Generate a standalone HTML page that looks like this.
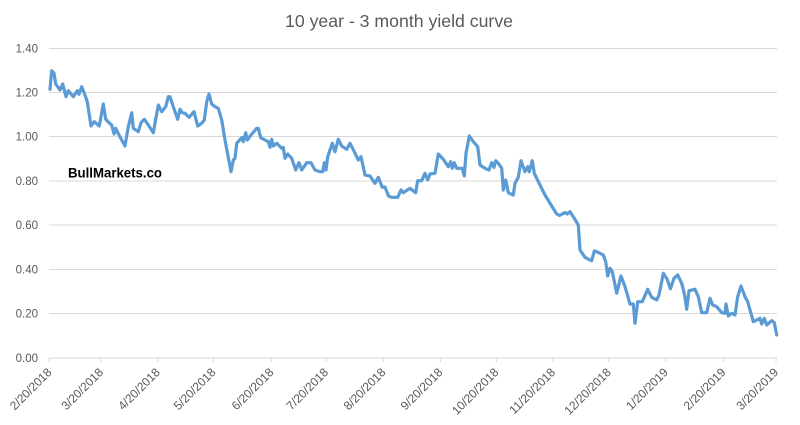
<!DOCTYPE html>
<html><head><meta charset="utf-8"><style>
html,body{margin:0;padding:0;background:#fff;}
svg{display:block;}
</style></head><body>
<svg width="800" height="425" viewBox="0 0 800 425" xmlns="http://www.w3.org/2000/svg">
<rect width="800" height="425" fill="#fff"/>
<text x="399" y="27" text-anchor="middle" font-family="Liberation Sans, sans-serif" font-size="17.5" fill="#595959" textLength="228" lengthAdjust="spacingAndGlyphs">10 year - 3 month yield curve</text>
<g stroke="#d9d9d9" stroke-width="1">
<line x1="49" y1="48.5" x2="777" y2="48.5"/>
<line x1="49" y1="92.5" x2="777" y2="92.5"/>
<line x1="49" y1="136.5" x2="777" y2="136.5"/>
<line x1="49" y1="181" x2="777" y2="181"/>
<line x1="49" y1="225" x2="777" y2="225"/>
<line x1="49" y1="269.5" x2="777" y2="269.5"/>
<line x1="49" y1="313.5" x2="777" y2="313.5"/>
<line x1="49" y1="358" x2="777" y2="358"/>
<g>
<line x1="49" y1="358" x2="49" y2="362"/>
<line x1="101" y1="358" x2="101" y2="362"/>
<line x1="157.7" y1="358" x2="157.7" y2="362"/>
<line x1="213.3" y1="358" x2="213.3" y2="362"/>
<line x1="271.3" y1="358" x2="271.3" y2="362"/>
<line x1="326" y1="358" x2="326" y2="362"/>
<line x1="383.3" y1="358" x2="383.3" y2="362"/>
<line x1="440.3" y1="358" x2="440.3" y2="362"/>
<line x1="496.3" y1="358" x2="496.3" y2="362"/>
<line x1="553" y1="358" x2="553" y2="362"/>
<line x1="608.7" y1="358" x2="608.7" y2="362"/>
<line x1="665.7" y1="358" x2="665.7" y2="362"/>
<line x1="723.3" y1="358" x2="723.3" y2="362"/>
<line x1="776" y1="358" x2="776" y2="362"/>
</g>
</g>
<g font-family="Liberation Sans, sans-serif" font-size="11.5" fill="#595959" text-anchor="end">
<text x="38" y="52.5">1.40</text>
<text x="38" y="96.5">1.20</text>
<text x="38" y="140.5">1.00</text>
<text x="38" y="185">0.80</text>
<text x="38" y="229">0.60</text>
<text x="38" y="273.5">0.40</text>
<text x="38" y="317.5">0.20</text>
<text x="38" y="362">0.00</text>
</g>
<g font-family="Liberation Sans, sans-serif" font-size="12" fill="#595959" text-anchor="end">
<text transform="translate(52.5,373) rotate(-45)">2/20/2018</text>
<text transform="translate(104,373) rotate(-45)">3/20/2018</text>
<text transform="translate(160.7,373) rotate(-45)">4/20/2018</text>
<text transform="translate(216.3,373) rotate(-45)">5/20/2018</text>
<text transform="translate(274.3,373) rotate(-45)">6/20/2018</text>
<text transform="translate(329,373) rotate(-45)">7/20/2018</text>
<text transform="translate(386.3,373) rotate(-45)">8/20/2018</text>
<text transform="translate(443.3,373) rotate(-45)">9/20/2018</text>
<text transform="translate(499.3,373) rotate(-45)">10/20/2018</text>
<text transform="translate(556,373) rotate(-45)">11/20/2018</text>
<text transform="translate(611.7,373) rotate(-45)">12/20/2018</text>
<text transform="translate(668.7,373) rotate(-45)">1/20/2019</text>
<text transform="translate(726.3,373) rotate(-45)">2/20/2019</text>
<text transform="translate(779,373) rotate(-45)">3/20/2019</text>
</g>
<text x="68" y="177.5" font-family="Liberation Sans, sans-serif" font-size="13.5" font-weight="bold" fill="#000" textLength="94" lengthAdjust="spacingAndGlyphs">BullMarkets.co</text>
<polyline fill="none" stroke="#5b9bd5" stroke-width="3.2" stroke-linejoin="round" stroke-linecap="round" points="
50,89.3 51.7,70.7 54,73 55.7,84 60,90 62.7,84 66,96.7 68.3,90.7 73.3,96.7 77.3,90.7 79,94.3 81.7,86.7 84.3,93.3 87.3,101.7 91,126 94.3,121.7 99.3,126 103.3,104 105.7,119.3 109,122.7 111.7,125 114,134 115.7,128.3 119,135 125,146 128.3,126.7 131.7,112.7 133.3,128.3 138.3,131.7 141,122.7 144.3,119.3 148.3,125 153.3,132.7 158.3,105 161.7,111.7 165.7,106.7 168.3,96.7 170,96.7 173.3,106.7 177.7,119.3 180,109.3 182.3,112.7 185,113.3 189,117.3 194,111.7 197.7,126 201.7,123.3 204.3,120 206.7,101.7 209,94 211.7,104 215,106.7 218.3,108.3 221.7,120 225,140 231,171.7 233.3,160 235,158.3 236.7,143.3 241.7,137.7 243.3,141.7 245.7,132.7 247.3,140 251,135 256.7,128.3 258.3,128.3 260.7,137.7 265,140 268.3,141.7 270,147.3 271.7,139.3 273.3,146 276.7,143.3 281.7,148.3 283.3,147.3 285,158.3 287.7,154 291.7,158.3 295.7,170 299,162.7 301.7,170 306.7,162.7 311,162.7 315,170 320,171.7 322.7,171.7 324.3,162.7 326,170 327.7,156.7 332.3,143.3 335,151.7 338.3,139.3 341.7,146 346.7,149.3 350,143.3 354.3,151.7 358.3,160 361,156.7 365,175 370,176 375,183.3 378.3,177.3 382.3,187.3 385,187 388.5,196 391.7,197.3 397.7,197.3 401,190 403.3,192.7 410,188.3 415.7,192.7 417.7,180.7 421.7,180.7 425,173.3 427.7,180 430,174 435,173.3 438.3,154 443.3,159.3 448.3,166.7 450.7,161.7 452.3,168.3 454.3,162.7 456.7,168.3 462.3,168.3 464.3,176 466,153.3 469.3,136 473.3,141.7 477.7,146.7 480,165 485,168.3 489,170 491.7,162.7 494,167.3 495.7,160.7 498.3,163.3 501.7,168.3 503.3,190 505.7,180 508.3,192.7 513.3,195 515,183.3 518.3,177.3 521,160.7 525,171.7 527.7,166.7 529.3,171.7 532.3,160.7 534.3,173.3 538.3,181.7 545,195 551.7,206 556.7,214 559.5,215.5 565,212.5 567.3,214 570,211.7 573.3,216.7 578.3,225 580,250 585,257.3 590,260 591.7,260.7 594.3,251 596.7,251.7 603.3,255 605.7,261.7 607.7,276 610,268.3 612.3,271.7 616.7,293.3 621,276 625,286.7 630,304 633.3,304 635,323.3 637.7,301.7 642.3,301.7 647.7,289.3 651.7,297.3 656.7,300 659,295 663.3,273.3 667,279 670.5,288.8 674,278.3 677.7,275 681.7,283.3 684.3,293.3 686.7,309.3 689,290.7 695,289.3 698.3,296.7 701.7,312.7 706.7,312.7 710,298.3 712.7,305 716.7,306.7 721.7,312.7 725,313.3 726,304 728.3,316 731.7,313.3 735,315 737.7,296.7 741,286 745,296.7 747.7,301.7 753.3,321.7 756.7,320 760,318.3 761.7,324 764.3,318.3 766.7,325 771.7,320.7 774.3,322.7 776.7,335"/>
</svg>
</body></html>
